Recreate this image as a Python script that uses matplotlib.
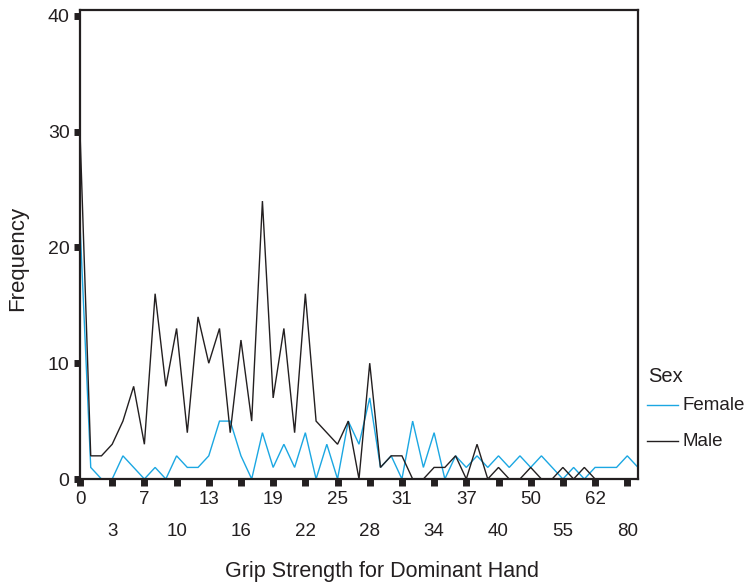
import matplotlib
matplotlib.use("Agg")
import matplotlib.pyplot as plt
from matplotlib.lines import Line2D

# Grip strength categories (observed values) and frequency counts by sex
grip_values = [0, 1, 2, 3, 4, 5, 7, 8, 9, 10, 11, 12, 13, 14, 15, 16, 17, 18, 19,
               20, 21, 22, 23, 24, 25, 26, 27, 28, 29, 30, 31, 32, 33, 34, 35, 36,
               37, 38, 39, 40, 42, 45, 50, 52, 54, 55, 58, 60, 62, 65, 70, 80, 85]

female_counts = [22, 1, 0, 0, 2, 1, 0, 1, 0, 2, 1, 1, 2, 5, 5, 2, 0, 4, 1,
                 3, 1, 4, 0, 3, 0, 5, 3, 7, 1, 2, 0, 5, 1, 4, 0, 2,
                 1, 2, 1, 2, 1, 2, 1, 2, 1, 0, 1, 0, 1, 1, 1, 2, 1]

male_counts = [30, 2, 2, 3, 5, 8, 3, 16, 8, 13, 4, 14, 10, 13, 4, 12, 5, 24, 7,
               13, 4, 16, 5, 4, 3, 5, 0, 10, 1, 2, 2, 0, 0, 1, 1, 2,
               0, 3, 0, 1, 0, 0, 1, 0, 0, 1, 0, 1, 0, 0, 0, 0, 0]

series_names = ["Female", "Male"]
series_colors = ["#1BA7E2", "#231F20"]
INK = "#231F20"

plt.rcParams["font.family"] = ["Liberation Sans", "DejaVu Sans"]

W, H = 756, 587
fig = plt.figure(figsize=(W / 100, H / 100), dpi=100)
ax = fig.add_axes([80 / W, 1 - 479 / H, (638 - 80) / W, (479 - 10) / H])

pos = list(range(len(grip_values)))
for counts, name, color in zip([female_counts, male_counts], series_names, series_colors):
    ax.plot(pos, counts, color=color, lw=1.0, label=name, solid_joinstyle="miter",
            clip_on=False, zorder=3)

ax.set_xlim(0, len(grip_values) - 1)
ax.set_ylim(0, 40.5)

for s in ax.spines.values():
    s.set_linewidth(1.6)
    s.set_color(INK)
    s.set_zorder(4)

# Y axis
ax.set_yticks([0, 10, 20, 30, 40])
ax.tick_params(axis="y", direction="out", length=4.5, width=5, color=INK,
               pad=3, labelsize=14, labelcolor=INK)

# X axis: labels on every third category, alternating between two rows
major_idx = pos[0::6]
minor_idx = pos[3::6]
ax.set_xticks(major_idx)
ax.set_xticklabels([str(grip_values[i]) for i in major_idx])
ax.set_xticks(minor_idx, minor=True)
ax.set_xticklabels([str(grip_values[i]) for i in minor_idx], minor=True)
ax.tick_params(axis="x", which="both", direction="out", length=5, width=5,
               color=INK, labelsize=13.5, labelcolor=INK)
ax.tick_params(axis="x", which="major", pad=3.5)
ax.tick_params(axis="x", which="minor", pad=27)

# Axis titles
fig.text(382 / W, 1 - 572 / H, "Grip Strength for Dominant Hand", fontsize=15.5,
         color=INK, ha="center", va="center")
fig.text(18 / W, 1 - 258 / H, "Frequency", fontsize=16, color=INK,
         rotation=90, ha="center", va="center")

# Legend
fig.text(648 / W, 1 - 376 / H, "Sex", fontsize=14.5, color=INK, ha="left", va="center")
for name, color, y in zip(series_names, series_colors, [405, 441]):
    fig.add_artist(Line2D([647 / W, 678 / W], [1 - y / H, 1 - y / H],
                          color=color, lw=1.0, transform=fig.transFigure))
    fig.text(683 / W, 1 - y / H, name, fontsize=13.5, color=INK, ha="left", va="center")

fig.savefig("out.png", dpi=100, facecolor="white")
